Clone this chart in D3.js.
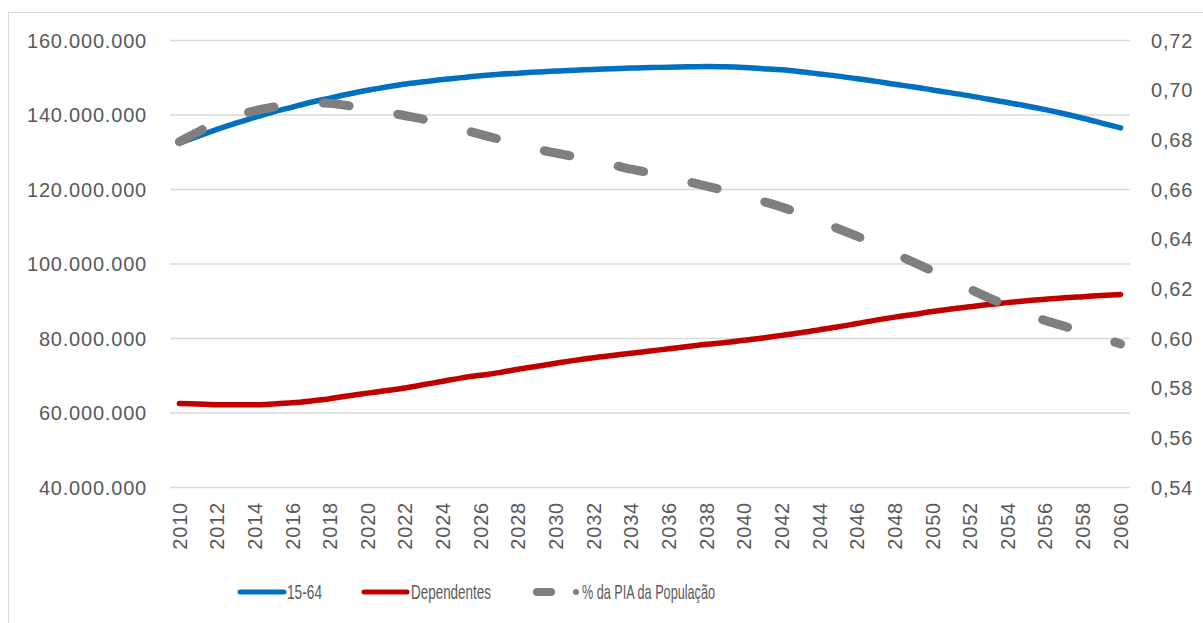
<!DOCTYPE html>
<html>
<head>
<meta charset="utf-8">
<script src="https://cdn.jsdelivr.net/npm/d3@7"></script>
<style>
  html, body { margin: 0; padding: 0; background: #fff; }
  svg { display: block; }
  .ax text { font-family: "Liberation Sans", Arial, sans-serif; font-size: 20px; fill: #595959; letter-spacing: 0.8px; }
  .legend text { font-family: "Liberation Sans Narrow", "Liberation Sans", Arial, sans-serif; font-size: 21px; fill: #595959; }
</style>
</head>
<body>
<svg id="chart" width="1203" height="623"></svg>
<script>
// ---- Data ----
const years = d3.range(2010, 2061);
const pop1564 = [132.3,134.2,136.0,137.7,139.2,140.7,142.0,143.3,144.4,145.5,146.5,147.4,148.2,148.8,149.4,149.9,150.4,150.8,151.1,151.4,151.7,151.9,152.1,152.3,152.5,152.6,152.7,152.8,152.9,152.8,152.6,152.3,152.0,151.5,150.9,150.3,149.6,148.9,148.1,147.4,146.6,145.8,145.0,144.1,143.2,142.3,141.3,140.2,139.0,137.7,136.4]; // millions
const dependentes = [62.4,62.3,62.1,62.1,62.1,62.3,62.6,63.1,63.7,64.5,65.2,65.9,66.6,67.5,68.4,69.3,70.0,70.7,71.6,72.4,73.2,74.0,74.7,75.3,75.9,76.5,77.1,77.7,78.3,78.8,79.4,80.0,80.7,81.4,82.2,83.0,83.9,84.8,85.6,86.3,87.1,87.8,88.4,89.0,89.5,90.0,90.4,90.8,91.1,91.4,91.7]; // millions
const pctPIA = [0.679,0.683,0.687,0.6895,0.6915,0.693,0.694,0.6947,0.6945,0.6935,0.6925,0.691,0.6895,0.688,0.686,0.684,0.682,0.680,0.678,0.676,0.6745,0.673,0.6713,0.6697,0.668,0.6665,0.6648,0.663,0.6612,0.6593,0.6572,0.655,0.6527,0.650,0.647,0.644,0.641,0.6375,0.634,0.6305,0.627,0.6233,0.6197,0.6162,0.613,0.610,0.607,0.6048,0.6023,0.600,0.5976];
const leftTicks = [40e6, 60e6, 80e6, 100e6, 120e6, 140e6, 160e6];
const rightTicks = [0.54, 0.56, 0.58, 0.60, 0.62, 0.64, 0.66, 0.68, 0.70, 0.72];
const yearTicks = years.filter(y => y % 2 === 0);
const seriesNames = ["15-64", "Dependentes", "% da PIA da População"];
const seriesColors = ["#0070C0", "#C00000", "#7F7F7F"];

// ---- Setup ----
const svg = d3.select("#chart");
const plot = { left: 170, right: 1130, top: 40, bottom: 487 };
const loc = d3.formatLocale({ decimal: ",", thousands: ".", grouping: [3], currency: ["", ""] });
const fmtLeft = loc.format(",.0f");
const fmtRight = loc.format(".2f");

const x = d3.scaleBand().domain(years).range([plot.left, plot.right]).paddingInner(0).paddingOuter(0);
const xc = d => x(d) + x.bandwidth() / 2;
const yL = d3.scaleLinear().domain([40e6, 160e6]).range([plot.bottom, plot.top]);
const yR = d3.scaleLinear().domain([0.54, 0.72]).range([plot.bottom, plot.top]);

// outer frame
svg.append("rect").attr("x", 8.5).attr("y", 12.5).attr("width", 1300).attr("height", 700)
  .attr("fill", "none").attr("stroke", "#D9D9D9").attr("stroke-width", 1);

// gridlines
svg.append("g").attr("transform", `translate(${plot.left},0)`)
  .call(d3.axisRight(yL).tickValues(leftTicks).tickSize(plot.right - plot.left).tickFormat(""))
  .call(g => g.select(".domain").remove())
  .call(g => g.selectAll("line").attr("stroke", "#D9D9D9").attr("stroke-width", 1.3));

// left axis
svg.append("g").attr("class", "ax").attr("transform", `translate(147,0)`)
  .call(d3.axisLeft(yL).tickValues(leftTicks).tickSize(0).tickFormat(fmtLeft))
  .call(g => g.select(".domain").remove())
  .call(g => g.selectAll("text").attr("x", 0).attr("dy", "0.35em"));

// right axis
svg.append("g").attr("class", "ax").attr("transform", `translate(1151,0)`)
  .call(d3.axisRight(yR).tickValues(rightTicks).tickSize(0).tickFormat(fmtRight))
  .call(g => g.select(".domain").remove())
  .call(g => g.selectAll("text").attr("x", 0).attr("dy", "0.35em"));

// x axis
svg.append("g").attr("class", "ax").attr("transform", `translate(0,${plot.bottom})`)
  .call(d3.axisBottom(x).tickValues(yearTicks).tickSize(0))
  .call(g => g.select(".domain").remove())
  .call(g => g.selectAll("text")
    .attr("transform", "rotate(-90)")
    .attr("text-anchor", "end")
    .attr("x", -15).attr("y", 0).attr("dy", "0.36em"));

// lines
const lineL = d3.line().x((d, i) => xc(years[i])).y(d => yL(d * 1e6)).curve(d3.curveMonotoneX);
const lineR = d3.line().x((d, i) => xc(years[i])).y(d => yR(d)).curve(d3.curveMonotoneX);

svg.append("path").datum(dependentes).attr("d", lineL)
  .attr("fill", "none").attr("stroke", seriesColors[1]).attr("stroke-width", 5.5)
  .attr("stroke-linecap", "round").attr("stroke-linejoin", "round");
svg.append("path").datum(pop1564).attr("d", lineL)
  .attr("fill", "none").attr("stroke", seriesColors[0]).attr("stroke-width", 5.5)
  .attr("stroke-linecap", "round").attr("stroke-linejoin", "round");
svg.append("path").datum(pctPIA).attr("d", lineR)
  .attr("fill", "none").attr("stroke", seriesColors[2]).attr("stroke-width", 9)
  .attr("stroke-linecap", "round").attr("stroke-linejoin", "round")
  .attr("stroke-dasharray", "26,49.5");

// legend
const lg = svg.append("g").attr("class", "legend");
const ly = 592;
const items = [
  { x1: 240, x2: 284, tx: 287, tl: 35 },
  { x1: 364, x2: 407, tx: 411, tl: 80 },
  { x1: 537, x2: 551, tx: 582, tl: 133 }
];
items.forEach((it, i) => {
  lg.append("line").attr("x1", it.x1).attr("x2", it.x2).attr("y1", ly).attr("y2", ly)
    .attr("stroke", seriesColors[i]).attr("stroke-width", i === 2 ? 8 : 5).attr("stroke-linecap", "round");
  if (i === 2) lg.append("circle").attr("cx", 576).attr("cy", ly).attr("r", 3).attr("fill", seriesColors[2]);
  lg.append("text").attr("x", it.tx).attr("y", ly).attr("dy", "0.35em")
    .attr("textLength", it.tl).attr("lengthAdjust", "spacingAndGlyphs").text(seriesNames[i]);
});
</script>
</body>
</html>
